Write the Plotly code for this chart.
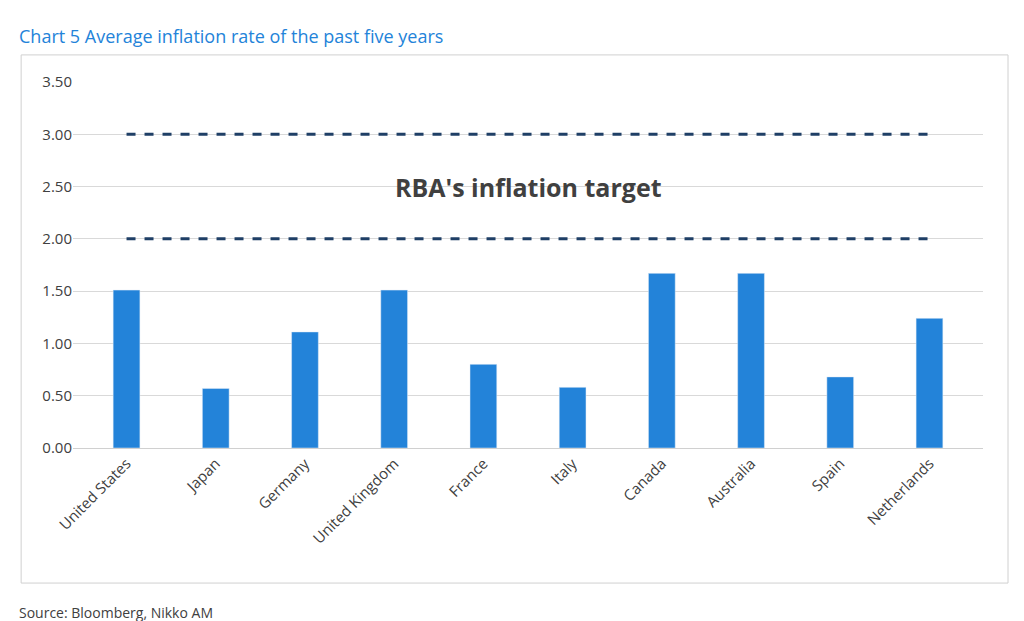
import plotly.graph_objects as go

countries = ["United States", "Japan", "Germany", "United Kingdom", "France",
             "Italy", "Canada", "Australia", "Spain", "Netherlands"]
avg_inflation = [1.51, 0.57, 1.11, 1.51, 0.80, 0.58, 1.67, 1.67, 0.68, 1.24]
target_low = 2.0
target_high = 3.0

fig = go.Figure()
fig.add_bar(x=countries, y=avg_inflation, marker_color="#2383D9", width=0.3)
for t in (target_low, target_high):
    fig.add_scatter(x=countries, y=[t] * len(countries), mode="lines",
                    line=dict(color="#1F3F66", width=3, dash="dash"),
                    hoverinfo="skip")

fig.add_annotation(x=0.5, xref="paper", y=2.5, text="<b>RBA's inflation target</b>",
                   showarrow=False, font=dict(size=25, color="#404040"))
fig.add_annotation(x=-0.062, xref="paper", xanchor="left", y=1.126, yref="paper",
                   yanchor="middle", text="Chart 5 Average inflation rate of the past five years",
                   showarrow=False, font=dict(size=18, color="#2383D9"))
fig.add_annotation(x=-0.062, xref="paper", xanchor="left", y=-0.45, yref="paper",
                   yanchor="middle", text="Source: Bloomberg, Nikko AM",
                   showarrow=False, font=dict(size=14, color="#404040"))
fig.add_shape(type="rect", xref="paper", yref="paper",
              x0=-0.057, x1=1.0275, y0=-0.369, y1=1.074,
              line=dict(color="#D0D0D0", width=1))

fig.update_layout(
    width=1024, height=621, showlegend=False,
    plot_bgcolor="white", paper_bgcolor="white",
    margin=dict(l=65, r=49, t=74, b=181),
    font=dict(family="Open Sans", color="#404040", size=14),
    xaxis=dict(tickangle=-45, showline=True, linecolor="#D0D0D0",
               range=[-0.6, 9.6], tickfont=dict(size=15)),
    yaxis=dict(range=[0, 3.5], dtick=0.5, tickformat=".2f",
               gridcolor="#D9D9D9", zeroline=False, tickfont=dict(size=15)),
)
fig.write_html("out.html")
